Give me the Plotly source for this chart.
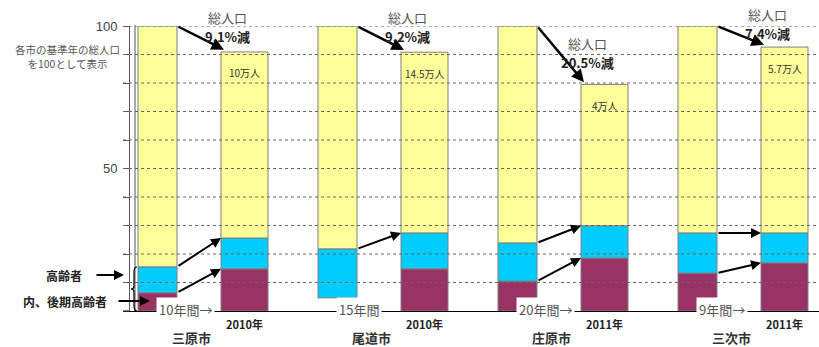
import plotly.graph_objects as go

# ---------------- data ----------------
cities = ["三原市", "尾道市", "庄原市", "三次市"]
period_labels = ["10年間→", "15年間", "20年間→", "9年間→"]
target_years = ["2010年", "2010年", "2011年", "2011年"]
pop_labels = ["10万人", "14.5万人", "4万人", "5.7万人"]
decline_labels = ["9.1%減", "9.2%減", "20.5%減", "7.4%減"]

# order per city: [base year, target year]
total = [100, 90.9, 100, 90.8, 100, 79.5, 100, 92.6]           # index (base year = 100)
elderly = [15.5, 25.6, 21.8, 27.4, 23.9, 29.9, 27.4, 27.4]     # 高齢者 (top of cyan)
later_elderly = [6.4, 14.8, None, 14.8, 10.5, 18.6, 13.3, 16.9]  # 内、後期高齢者
unshown_bottom = [0, 0, 4.6, 0, 0, 0, 0, 0]                     # blank part under cyan

# ---------------- layout constants ----------------
FONT = "Noto Sans CJK JP"
YELLOW, CYAN, PURPLE = "#FFFF99", "#00CCFF", "#993366"
OUTLINE = "#7f7f7f"
PX_PER_GROUP = 180.0
SEC_OFF = 87 / PX_PER_GROUP
W_BASE = 39 / PX_PER_GROUP
W_SEC = 47 / PX_PER_GROUP
PL, PR, PT, PB = 130, 819, 26, 311
X0 = (PL - 157.5) / PX_PER_GROUP
X1 = (PR - 157.5) / PX_PER_GROUP


def xp(px):
    return (px - PL) / (PR - PL)


def yp(py):
    return (PB - py) / (PB - PT)


xs, ws = [], []
for g in range(len(cities)):
    xs += [g, g + SEC_OFF]
    ws += [W_BASE, W_SEC]

cyan_floor = [lv if lv is not None else ub for lv, ub in zip(later_elderly, unshown_bottom)]

fig = go.Figure()
fig.add_bar(x=xs, y=later_elderly, base=[0] * len(xs), width=ws,
            marker=dict(color=PURPLE, line=dict(color=OUTLINE, width=1)), name="後期高齢者")
fig.add_bar(x=xs, y=[e - f for e, f in zip(elderly, cyan_floor)], base=cyan_floor, width=ws,
            marker=dict(color=CYAN, line=dict(color=OUTLINE, width=1)), name="高齢者")
fig.add_bar(x=xs, y=[t - e for t, e in zip(total, elderly)], base=elderly, width=ws,
            marker=dict(color=YELLOW, line=dict(color=OUTLINE, width=1)), name="その他")

shapes = []
# dotted gridlines drawn above bars
for v in range(10, 101, 10):
    shapes.append(dict(type="line", xref="paper", yref="y", x0=xp(123), x1=1, y0=v, y1=v,
                       line=dict(color="#666666", width=1, dash="dot"), layer="above"))
# second vertical line of the axis
shapes.append(dict(type="line", xref="paper", yref="paper", x0=xp(135), x1=xp(135), y0=0, y1=yp(25),
                   line=dict(color="#555555", width=1)))
# baseline extension to the left
shapes.append(dict(type="line", xref="paper", yref="paper", x0=xp(123), x1=xp(130), y0=0, y1=0,
                   line=dict(color="black", width=1)))
# brace
bx = lambda p: f"{xp(p):.5f}"
by = lambda p: f"{yp(p):.5f}"
path = (f"M {bx(137)},{by(267)} Q {bx(134)},{by(267)} {bx(134)},{by(272)} "
        f"L {bx(134)},{by(286)} Q {bx(134)},{by(289)} {bx(131)},{by(289)} "
        f"Q {bx(134)},{by(289)} {bx(134)},{by(292)} "
        f"L {bx(134)},{by(306)} Q {bx(134)},{by(311)} {bx(137)},{by(311)}")
shapes.append(dict(type="path", xref="paper", yref="paper", path=path,
                   line=dict(color="black", width=1.2)))

ann = []
label_y = [96.2, 96.2, 87.1, 97.3]
for g in range(len(cities)):
    bi, si = 2 * g, 2 * g + 1
    bxv, sxv = xs[bi], xs[si]
    b_right = bxv + W_BASE / 2
    s_left = sxv - W_SEC / 2
    # total population arrow
    ann.append(dict(x=s_left + 3 / PX_PER_GROUP, y=total[si] + 0.8, ax=b_right, ay=total[bi],
                    xref="x", yref="y", axref="x", ayref="y", text="", showarrow=True,
                    arrowhead=2, arrowsize=1, arrowwidth=2.5, arrowcolor="black"))
    # elderly arrow
    ann.append(dict(x=s_left, y=elderly[si], ax=b_right, ay=elderly[bi],
                    xref="x", yref="y", axref="x", ayref="y", text="", showarrow=True,
                    arrowhead=2, arrowsize=1, arrowwidth=2, arrowcolor="black"))
    # later-elderly arrow
    if later_elderly[bi] is not None:
        ann.append(dict(x=s_left, y=later_elderly[si], ax=b_right, ay=later_elderly[bi],
                        xref="x", yref="y", axref="x", ayref="y", text="", showarrow=True,
                        arrowhead=2, arrowsize=1, arrowwidth=2, arrowcolor="black"))
    # decline labels
    lx = sxv - 17 / PX_PER_GROUP
    ann.append(dict(x=lx, y=label_y[g], yshift=19, xref="x", yref="y", xanchor="center",
                    yanchor="middle", text="総人口", showarrow=False,
                    font=dict(family=FONT, size=13, color="#555555")))
    ann.append(dict(x=lx, y=label_y[g], xref="x", yref="y", xanchor="center", yanchor="middle",
                    text="<b>" + decline_labels[g] + "</b>",
                    showarrow=False, font=dict(family=FONT, size=13, color="#222222")))
    # population inside bar
    ann.append(dict(x=sxv, y=total[si], yshift=-21, xref="x", yref="y", xanchor="center",
                    yanchor="middle", text=pop_labels[g],
                    showarrow=False, font=dict(family=FONT, size=10, color="#333333")))
    # period label on baseline
    ann.append(dict(x=bxv - 2 / PX_PER_GROUP, y=0, yshift=2, xref="x", yref="y", xanchor="left",
                    yanchor="middle", text=period_labels[g], showarrow=False, bgcolor="white",
                    borderpad=2, font=dict(family=FONT, size=13, color="#555555")))
    # year label
    ann.append(dict(x=sxv, y=yp(324), xref="x", yref="paper", xanchor="center", yanchor="middle",
                    text="<b>" + target_years[g] + "</b>",
                    showarrow=False, font=dict(family=FONT, size=11, color="#222222")))
    # city label
    ann.append(dict(x=(bxv + sxv) / 2 - 10 / PX_PER_GROUP, y=yp(337), xref="x", yref="paper",
                    xanchor="center", yanchor="middle",
                    text="<b>" + cities[g] + "</b>", showarrow=False,
                    font=dict(family=FONT, size=13, color="#333333")))

# left-side notes
ann.append(dict(x=xp(67), y=yp(56), xref="paper", yref="paper", xanchor="center", yanchor="middle",
                text="各市の基準年の総人口<br>を100として表示",
                showarrow=False, font=dict(family=FONT, size=10.5, color="#555555")))
ann.append(dict(x=xp(84), y=yp(275), xref="paper", yref="paper", xanchor="right", yanchor="middle",
                text="<b>高齢者</b>",
                showarrow=False, font=dict(family=FONT, size=12, color="#222222")))
ann.append(dict(x=xp(124), y=yp(275), xref="paper", yref="paper", ax=-29, ay=0, text="", showarrow=True,
                arrowhead=2, arrowsize=1, arrowwidth=2, arrowcolor="black"))
ann.append(dict(x=xp(109), y=yp(301), xref="paper", yref="paper", xanchor="right", yanchor="middle",
                text="<b>内、後期高齢者</b>", showarrow=False,
                font=dict(family=FONT, size=12, color="#222222")))
ann.append(dict(x=xp(150), y=yp(301), xref="paper", yref="paper", ax=-33, ay=0, text="", showarrow=True,
                arrowhead=2, arrowsize=1, arrowwidth=2, arrowcolor="black"))

tickvals = list(range(0, 101, 10))
ticktext = [str(v) if v in (50, 100) else "" for v in tickvals]

fig.update_layout(
    width=819, height=347,
    margin=dict(l=PL, r=819 - PR, t=PT, b=347 - PB, pad=0),
    paper_bgcolor="white", plot_bgcolor="white",
    barmode="overlay", showlegend=False,
    font=dict(family=FONT),
    xaxis=dict(range=[X0, X1], showgrid=False, zeroline=False, showticklabels=False,
               showline=True, linecolor="black", linewidth=1, ticks=""),
    yaxis=dict(range=[0, 100], tickvals=tickvals, ticktext=ticktext, showgrid=False, zeroline=False,
               showline=True, linecolor="#555555", linewidth=1, ticks="outside", ticklen=6,
               tickcolor="#555555", ticklabelstandoff=3,
               tickfont=dict(family="Liberation Sans", size=13, color="#444444")),
    shapes=shapes, annotations=ann,
)

fig.write_html("out.html")
